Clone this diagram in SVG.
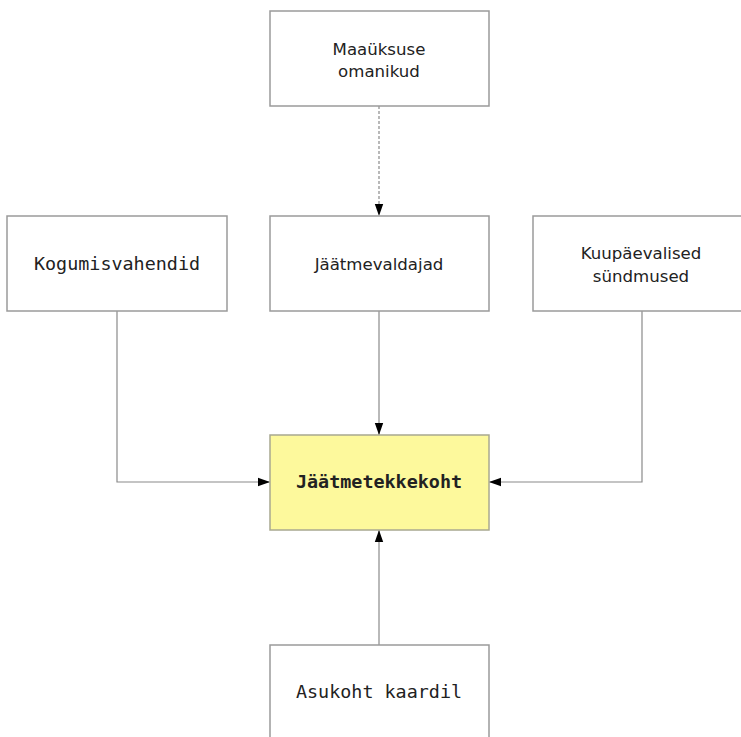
<svg xmlns="http://www.w3.org/2000/svg" width="741" height="737" viewBox="0 0 741 737">
<style>
.box{fill:#ffffff;stroke:#9a9a9a;stroke-width:1.5}
.hl{fill:#fdf99c;stroke:#a8a890;stroke-width:1.5}
.sans{font-family:"DejaVu Sans","Liberation Sans",sans-serif;font-size:16.6px;fill:#222;text-anchor:middle}
.mono{font-family:"DejaVu Sans Mono","Liberation Mono",monospace;font-size:18.4px;fill:#222;text-anchor:middle}
.con{fill:none;stroke:#8a8a8a;stroke-width:1.2}
.dash{stroke-dasharray:3,2}
</style>
<defs>
<marker id="arr" viewBox="0 0 12 10" refX="12" refY="5" markerWidth="12" markerHeight="10" markerUnits="userSpaceOnUse" orient="auto">
<path d="M0,0.8 L12,5 L0,9.2 Z" fill="#000"/>
</marker>
</defs>
<rect width="741" height="737" fill="#ffffff"/>
<g id="connectors">
<path class="con dash" d="M379,106 V216" marker-end="url(#arr)"/>
<path class="con" d="M379,311 V435" marker-end="url(#arr)"/>
<path class="con" d="M117,311 V482 H270" marker-end="url(#arr)"/>
<path class="con" d="M642,311 V482 H489" marker-end="url(#arr)"/>
<path class="con" d="M379,645 V530" marker-end="url(#arr)"/>
</g>
<g id="maauksuse">
<rect class="box" x="270" y="11" width="219" height="95"/>
<text class="sans" x="379" y="55">Maaüksuse</text>
<text class="sans" x="379" y="77">omanikud</text>
</g>
<g id="kogumisvahendid">
<rect class="box" x="7" y="216" width="220" height="95"/>
<text class="mono" x="117" y="270">Kogumisvahendid</text>
</g>
<g id="jaatmevaldajad">
<rect class="box" x="270" y="216" width="219" height="95"/>
<text class="sans" x="379" y="270">Jäätmevaldajad</text>
</g>
<g id="kuupaevalised">
<rect class="box" x="533" y="216" width="219" height="95"/>
<text class="sans" x="641" y="259">Kuupäevalised</text>
<text class="sans" x="641" y="282">sündmused</text>
</g>
<g id="jaatmetekkekoht">
<rect class="hl" x="270" y="435" width="219" height="95"/>
<text class="mono" x="379" y="488" font-weight="bold">Jäätmetekkekoht</text>
</g>
<g id="asukoht">
<rect class="box" x="270" y="645" width="219" height="110"/>
<text class="mono" x="379" y="698">Asukoht kaardil</text>
</g>
</svg>
